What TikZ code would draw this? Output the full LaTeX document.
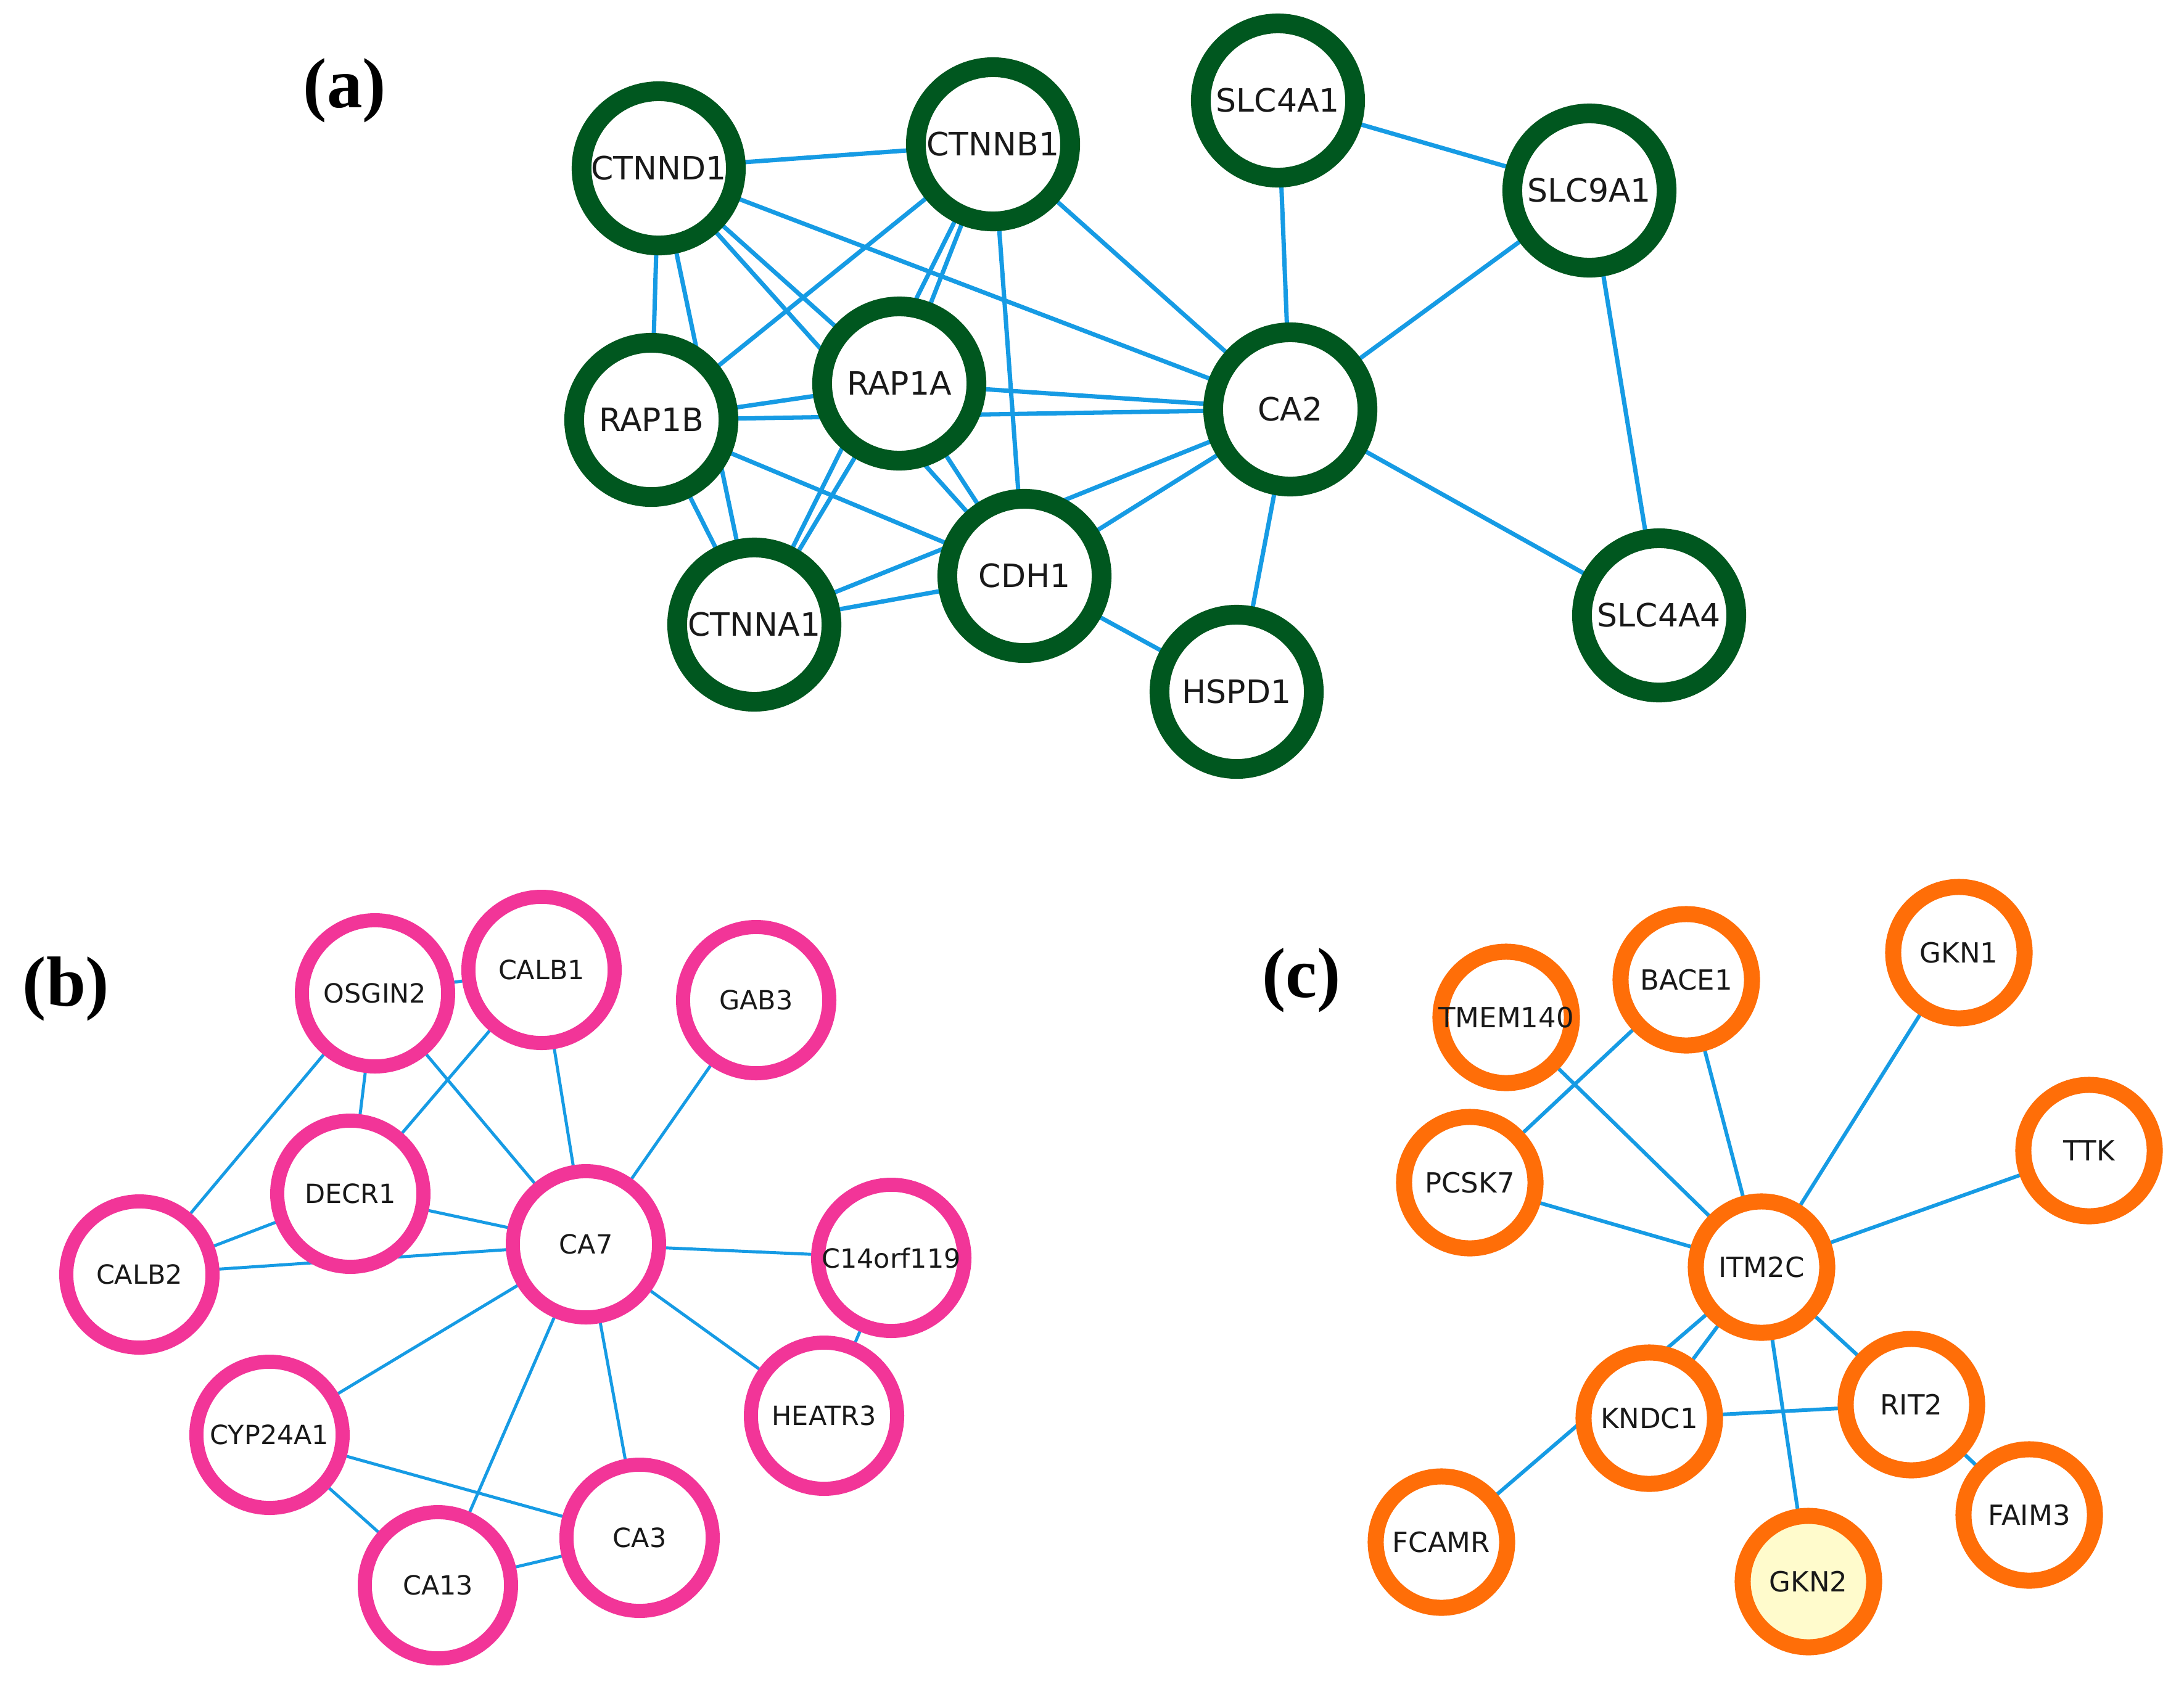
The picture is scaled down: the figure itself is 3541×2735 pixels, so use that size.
\documentclass[tikz,border=0pt]{standalone}
\usepackage{fontspec}
\setmainfont{DejaVu Sans}
\newfontfamily\lblfont{Liberation Serif}
\usetikzlibrary{backgrounds}
\definecolor{edgeblue}{RGB}{22,155,228}
\definecolor{ngreen}{RGB}{0,87,31}
\definecolor{npink}{RGB}{242,53,152}
\definecolor{norange}{RGB}{255,110,8}
\definecolor{gkfill}{RGB}{255,251,204}
\definecolor{txt}{RGB}{25,25,25}
\begin{document}
\begin{tikzpicture}[x=0.01cm,y=-0.01cm,
 gnode/.style={circle,draw=ngreen,line width=9.1pt,fill=white,minimum size=2.5cm,inner sep=0pt,text=txt,font=\fontsize{14.8pt}{16pt}\selectfont},
 pnode/.style={circle,draw=npink,line width=6.5pt,fill=white,minimum size=2.37cm,inner sep=0pt,text=txt,font=\fontsize{12.2pt}{14pt}\selectfont},
 onode/.style={circle,draw=norange,line width=7.4pt,fill=white,minimum size=2.13cm,inner sep=0pt,text=txt,font=\fontsize{12.8pt}{14pt}\selectfont},
 aedge/.style={draw=edgeblue,line width=2pt},
 bedge/.style={draw=edgeblue,line width=1.4pt},
 cedge/.style={draw=edgeblue,line width=1.7pt},
 plabel/.style={font=\lblfont\bfseries\fontsize{32.7pt}{36pt}\selectfont}
]
\useasboundingbox (0,0) rectangle (3541,2735);

% panel labels
\node[plabel] (la) at (559,147) {(a)};
\node[plabel] (lb) at (107,1604) {(b)};
\node[plabel] (lc) at (2110,1590) {(c)};

% ---------- (a) ----------
\node[gnode] (CTNND1) at (1068,273) {CTNND1};
\node[gnode] (CTNNB1) at (1610,234) {CTNNB1};
\node[gnode] (SLC4A1) at (2072,163) {SLC4A1};
\node[gnode] (SLC9A1) at (2577,309) {SLC9A1};
\node[gnode] (RAP1B) at (1056,681) {RAP1B};
\node[gnode] (RAP1A) at (1458,622) {RAP1A};
\node[gnode] (CA2) at (2092,664) {CA2};
\node[gnode] (CDH1) at (1661,934) {CDH1};
\node[gnode] (CTNNA1) at (1223,1013) {CTNNA1};
\node[gnode] (HSPD1) at (2005,1122) {HSPD1};
\node[gnode] (SLC4A4) at (2690,998) {SLC4A4};

% ---------- (b) ----------
\node[pnode] (OSGIN2) at (608,1611) {OSGIN2};
\node[pnode] (CALB1) at (878,1573) {CALB1};
\node[pnode] (GAB3) at (1226,1622) {GAB3};
\node[pnode] (DECR1) at (568,1936) {DECR1};
\node[pnode] (CALB2) at (226,2067) {CALB2};
\node[pnode] (CA7) at (950,2018) {CA7};
\node[pnode] (C14) at (1445,2040) {\makebox[0pt]{C14orf119}};
\node[pnode] (HEATR3) at (1336,2296) {HEATR3};
\node[pnode] (CYP) at (437,2327) {CYP24A1};
\node[pnode] (CA3) at (1037,2494) {CA3};
\node[pnode] (CA13) at (710,2571) {CA13};

% ---------- (c) ----------
\node[onode] (TMEM140) at (2442,1650) {\makebox[0pt]{TMEM140}};
\node[onode] (BACE1) at (2734,1589) {BACE1};
\node[onode] (GKN1) at (3176,1545) {GKN1};
\node[onode] (TTK) at (3387,1866) {TTK};
\node[onode] (PCSK7) at (2383,1918) {PCSK7};
\node[onode] (ITM2C) at (2856,2055) {ITM2C};
\node[onode] (KNDC1) at (2674,2300) {KNDC1};
\node[onode] (RIT2) at (3099,2278) {RIT2};
\node[onode] (FAIM3) at (3290,2457) {FAIM3};
\node[onode] (FCAMR) at (2337,2501) {FCAMR};
\node[onode,fill=gkfill] (GKN2) at (2932,2565) {GKN2};

\begin{scope}[on background layer]
\fill[white] (0,0) rectangle (3541,2735);
% (a) edges
\draw[aedge] (CTNND1.center) -- (CTNNB1.center);
\draw[aedge] (CTNND1.center) -- (RAP1B.center);
\draw[aedge] (CTNND1.center) -- (CTNNA1.center);
\draw[aedge] (CTNND1.center) -- (RAP1A.center);
\draw[aedge] (CTNND1.center) -- (CDH1.center);
\draw[aedge] (CTNND1.center) -- (CA2.center);
\draw[aedge] (CTNNB1.center) -- (RAP1B.center);
\draw[aedge] (CTNNB1.center) -- (RAP1A.center);
\draw[aedge] (CTNNB1.center) -- (CTNNA1.center);
\draw[aedge] (CTNNB1.center) -- (CDH1.center);
\draw[aedge] (CTNNB1.center) -- (CA2.center);
\draw[aedge] (SLC4A1.center) -- (CA2.center);
\draw[aedge] (SLC4A1.center) -- (SLC9A1.center);
\draw[aedge] (SLC9A1.center) -- (CA2.center);
\draw[aedge] (SLC9A1.center) -- (SLC4A4.center);
\draw[aedge] (CA2.center) -- (SLC4A4.center);
\draw[aedge] (CA2.center) -- (HSPD1.center);
\draw[aedge] (CDH1.center) -- (HSPD1.center);
\draw[aedge] (RAP1B.center) -- (RAP1A.center);
\draw[aedge] (RAP1B.center) -- (CA2.center);
\draw[aedge] (RAP1A.center) -- (CA2.center);
\draw[aedge] (RAP1B.center) -- (CDH1.center);
\draw[aedge] (RAP1B.center) -- (CTNNA1.center);
\draw[aedge] (RAP1A.center) -- (CDH1.center);
\draw[aedge] (RAP1A.center) -- (CTNNA1.center);
\draw[aedge] (CA2.center) -- (CDH1.center);
\draw[aedge] (CA2.center) -- (CTNNA1.center);
\draw[aedge] (CDH1.center) -- (CTNNA1.center);
% (b) edges
\draw[bedge] (OSGIN2.center) -- (CALB1.center);
\draw[bedge] (OSGIN2.center) -- (CALB2.center);
\draw[bedge] (OSGIN2.center) -- (DECR1.center);
\draw[bedge] (OSGIN2.center) -- (CA7.center);
\draw[bedge] (CALB1.center) -- (DECR1.center);
\draw[bedge] (CALB1.center) -- (CA7.center);
\draw[bedge] (GAB3.center) -- (CA7.center);
\draw[bedge] (DECR1.center) -- (CA7.center);
\draw[bedge] (DECR1.center) -- (CALB2.center);
\draw[bedge] (CALB2.center) -- (CA7.center);
\draw[bedge] (CA7.center) -- (C14.center);
\draw[bedge] (CA7.center) -- (HEATR3.center);
\draw[bedge] (C14.center) -- (HEATR3.center);
\draw[bedge] (CA7.center) -- (CYP.center);
\draw[bedge] (CA7.center) -- (CA13.center);
\draw[bedge] (CA7.center) -- (CA3.center);
\draw[bedge] (CYP.center) -- (CA3.center);
\draw[bedge] (CYP.center) -- (CA13.center);
\draw[bedge] (CA13.center) -- (CA3.center);
% (c) edges
\draw[cedge] (TMEM140.center) -- (ITM2C.center);
\draw[cedge] (BACE1.center) -- (PCSK7.center);
\draw[cedge] (BACE1.center) -- (ITM2C.center);
\draw[cedge] (GKN1.center) -- (ITM2C.center);
\draw[cedge] (TTK.center) -- (ITM2C.center);
\draw[cedge] (PCSK7.center) -- (ITM2C.center);
\draw[cedge] (ITM2C.center) -- (KNDC1.center);
\draw[cedge] (ITM2C.center) -- (FCAMR.center);
\draw[cedge] (ITM2C.center) -- (RIT2.center);
\draw[cedge] (ITM2C.center) -- (GKN2.center);
\draw[cedge] (KNDC1.center) -- (RIT2.center);
\draw[cedge] (RIT2.center) -- (FAIM3.center);
\end{scope}
\end{tikzpicture}
\end{document}
